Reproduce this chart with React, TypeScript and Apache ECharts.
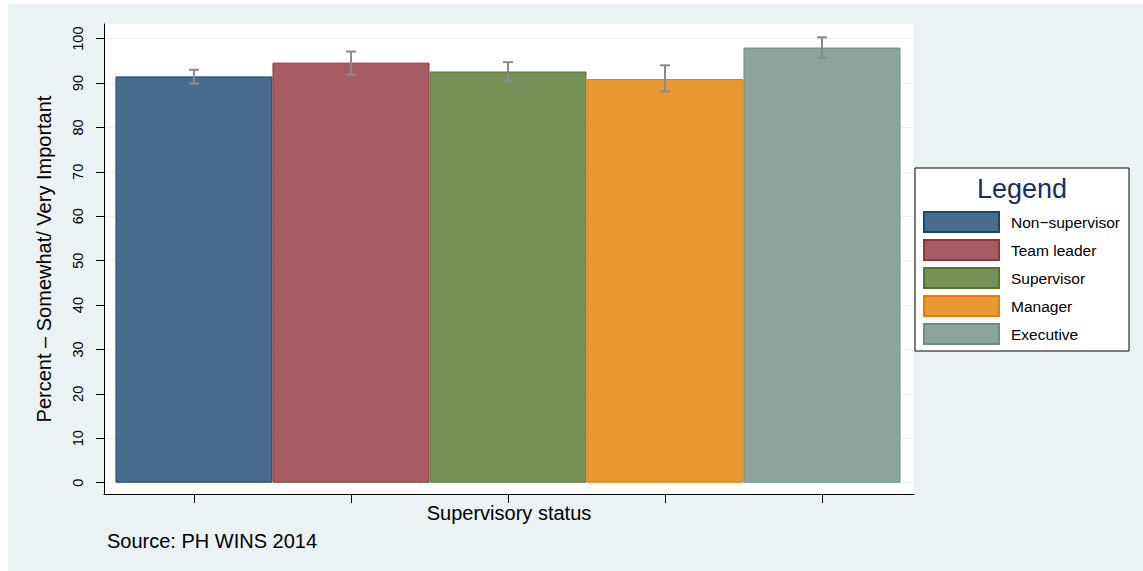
import React, { useEffect, useRef } from "react";
import * as echarts from "echarts";

const categories = ["Non−supervisor", "Team leader", "Supervisor", "Manager", "Executive"];
const values = [91.5, 94.6, 92.6, 90.9, 98.0];
const lower = [89.9, 91.9, 90.4, 88.1, 95.7];
const upper = [93.0, 97.1, 94.7, 94.0, 100.3];
const fillColors = ["#486c8c", "#a65d62", "#779159", "#e99833", "#8ba59d"];
const lineColors = ["#1a476f", "#90353b", "#55752f", "#e37e00", "#6e8e84"];
const yTicks = [0, 10, 20, 30, 40, 50, 60, 70, 80, 90, 100];
const xTicks = [0, 1, 2, 3, 4];

const FONT = "'Liberation Sans', Arial, Helvetica, sans-serif";

export default function App() {
  const ref = useRef<HTMLDivElement>(null);
  useEffect(() => {
    if (!ref.current) return;
    const chart = echarts.init(ref.current, undefined, { renderer: "svg" });
    const barSeries = categories.map((name, i) => ({
      name,
      type: "bar",
      data: [[xTicks[i], values[i]]],
      barWidth: 157,
      barGap: "-100%",
      itemStyle: { color: fillColors[i], borderColor: lineColors[i], borderWidth: 1 },
      z: 2,
    }));
    const errData = categories.map((_, i) => [xTicks[i], lower[i], upper[i]]);
    chart.setOption({
      animation: false,
      textStyle: { fontFamily: FONT },
      grid: {
        left: 104,
        top: 24,
        width: 810,
        height: 470,
        show: true,
        backgroundColor: "#ffffff",
        borderWidth: 0,
        containLabel: false,
      },
      xAxis: {
        type: "value",
        min: -0.573,
        max: 4.586,
        axisLine: { show: true, onZero: false, lineStyle: { color: "#000", width: 1 } },
        axisTick: { show: true, customValues: xTicks, length: 9, lineStyle: { color: "#000" } },
        axisLabel: { show: false },
        splitLine: { show: false },
        name: "Supervisory status",
        nameLocation: "middle",
        nameGap: 9,
        nameTextStyle: { fontSize: 20, color: "#000", fontFamily: FONT, verticalAlign: "top" },
      },
      yAxis: {
        type: "value",
        min: -2.55,
        max: 103.3,
        axisLine: { show: true, onZero: false, lineStyle: { color: "#000", width: 1 } },
        axisTick: { show: true, customValues: yTicks, length: 8, lineStyle: { color: "#000" } },
        axisLabel: {
          customValues: yTicks,
          rotate: 90,
          margin: 19,
          fontSize: 14.5,
          color: "#000",
          fontFamily: FONT,
        },
        splitLine: { show: true, lineStyle: { color: "#eaf2f3", width: 1 } },
        name: "Percent – Somewhat/ Very Important",
        nameLocation: "middle",
        nameGap: 50,
        nameRotate: 90,
        nameTextStyle: { fontSize: 20, color: "#000", fontFamily: FONT },
      },
      legend: {
        data: categories,
        orient: "vertical",
        left: 923,
        top: 211,
        padding: 0,
        itemWidth: 75,
        itemHeight: 20,
        itemGap: 6,
        icon: "rect",
        textStyle: { fontSize: 15.5, color: "#000", fontFamily: FONT, padding: [0, 0, 0, 7] },
      },
      graphic: [
        {
          type: "rect",
          shape: { x: 915, y: 168, width: 214, height: 183 },
          style: { fill: "#fff", stroke: "#000", lineWidth: 1 },
          silent: true,
        },
        {
          type: "text",
          x: 1022,
          y: 189,
          style: {
            text: "Legend",
            fontSize: 27,
            fill: "#1c2d5c",
            fontFamily: FONT,
            textAlign: "center",
            textVerticalAlign: "middle",
          },
        },
        {
          type: "text",
          x: 107,
          y: 541,
          style: {
            text: "Source: PH WINS 2014",
            fontSize: 20,
            fill: "#000",
            fontFamily: FONT,
            textAlign: "left",
            textVerticalAlign: "middle",
          },
        },
      ],
      series: [
        ...barSeries,
        {
          name: "errorbars",
          type: "custom",
          data: errData,
          encode: { x: 0, y: [1, 2] },
          z: 5,
          renderItem: (_params: any, api: any) => {
            const x = api.value(0);
            const lo = api.coord([x, api.value(1)]);
            const hi = api.coord([x, api.value(2)]);
            const hw = 5;
            const style = { stroke: "#8a8a8a", lineWidth: 2 };
            return {
              type: "group",
              children: [
                { type: "line", shape: { x1: lo[0], y1: lo[1], x2: hi[0], y2: hi[1] }, style },
                { type: "line", shape: { x1: hi[0] - hw, y1: hi[1], x2: hi[0] + hw, y2: hi[1] }, style },
                { type: "line", shape: { x1: lo[0] - hw, y1: lo[1], x2: lo[0] + hw, y2: lo[1] }, style },
              ],
            };
          },
        },
      ],
    });
    return () => chart.dispose();
  }, []);
  return (
    <>
      <div
        style={{
          position: "absolute",
          left: 8,
          top: 4,
          width: 1135,
          height: 567,
          background: "#eaf2f3",
        }}
      />
      <div
        ref={ref}
        style={{ position: "absolute", left: 0, top: 0, width: 1143, height: 571 }}
      />
    </>
  );
}
